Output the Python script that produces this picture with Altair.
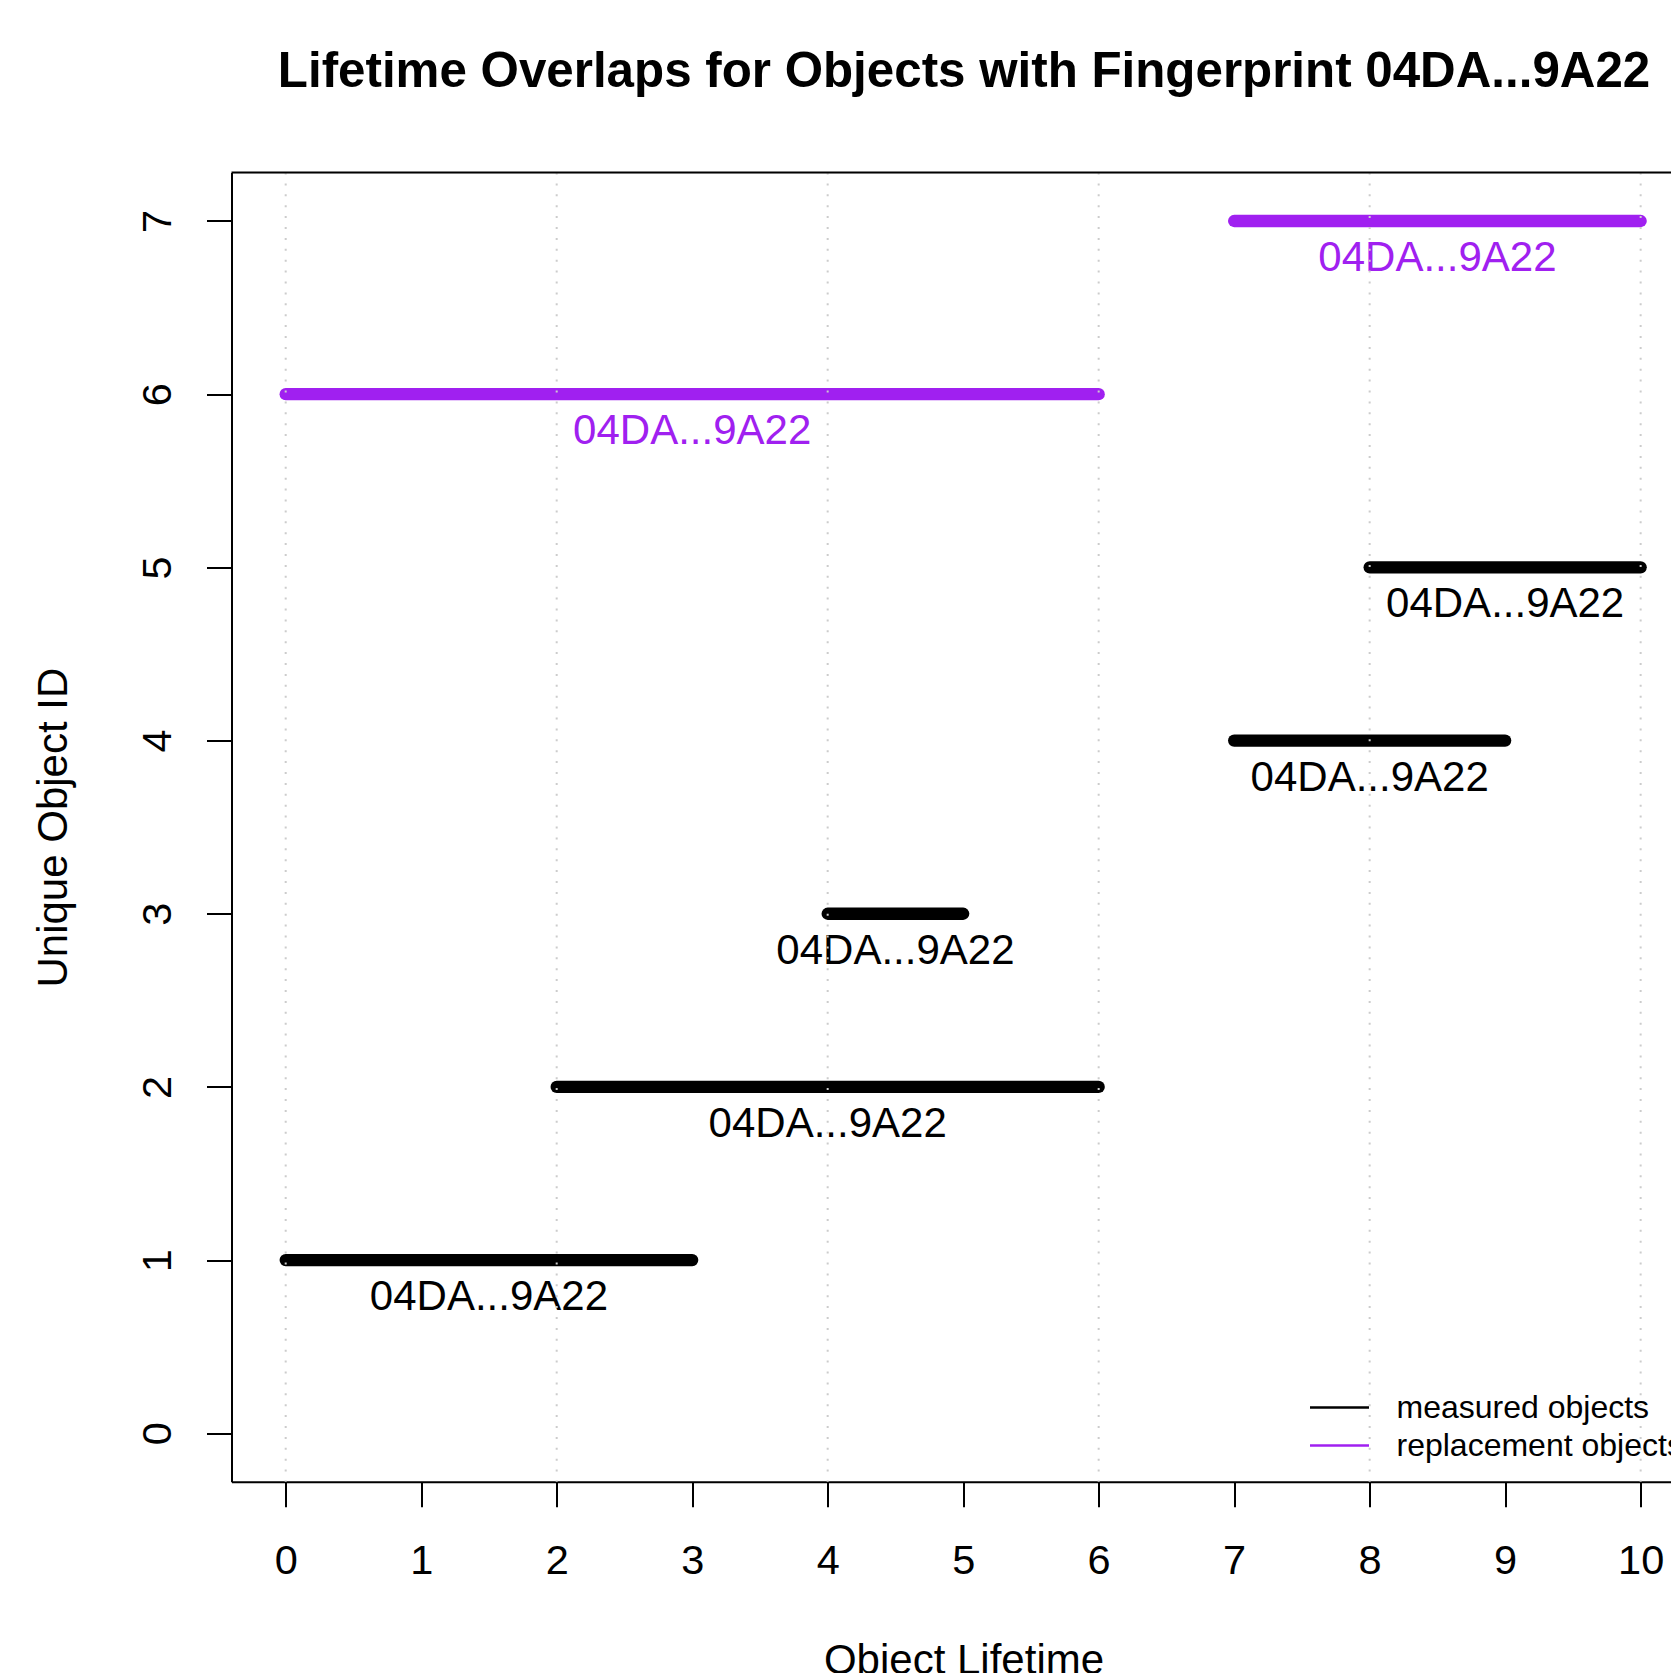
import altair as alt
import pandas as pd

# ---- data ----
object_ids = [1, 2, 3, 4, 5, 6, 7]
lifetime_start = [0, 2, 4, 7, 8, 0, 7]
lifetime_end = [3, 6, 5, 9, 10, 6, 10]
object_kind = ["measured objects"] * 5 + ["replacement objects"] * 2
fingerprint_labels = ["04DA...9A22"] * 7
x_ticks = list(range(0, 11))
y_ticks = list(range(0, 8))
grid_x = [0, 2, 4, 6, 8, 10]
series_names = ["measured objects", "replacement objects"]
series_colors = ["black", "#A020F0"]

X_DOMAIN = [-0.4, 10.224]
Y_DOMAIN = [-0.28, 7.28]

FONT = "Liberation Sans"
W, H = 1439.5, 1309.3

df = pd.DataFrame({
    "id": object_ids,
    "start": lifetime_start,
    "end": lifetime_end,
    "kind": object_kind,
    "label": fingerprint_labels,
})
grid_df = pd.DataFrame({"gx": grid_x})
frame_df = pd.DataFrame({"fx": [X_DOMAIN[0]], "fx2": [X_DOMAIN[1]], "fy": [Y_DOMAIN[1]]})

xscale = alt.Scale(domain=X_DOMAIN, nice=False, zero=False)
yscale = alt.Scale(domain=Y_DOMAIN, nice=False, zero=False)

xaxis = alt.Axis(
    values=x_ticks, format="d", title="Object Lifetime", grid=False,
    tickSize=25, tickWidth=2, tickColor="black",
    domainColor="black", domainWidth=2,
    labelFont=FONT, labelFontSize=41.5, labelColor="black",
    labelBaseline="alphabetic", labelPadding=66.5,
    labelFlush=False, labelOverlap=False,
    titleFont=FONT, titleFontSize=42, titleFontWeight="normal", titleColor="black",
    titleX=732, titleY=192, titleBaseline="alphabetic", titleAlign="center",
)
yaxis = alt.Axis(
    values=y_ticks, format="d", title="Unique Object ID", grid=False,
    tickSize=25, tickWidth=2, tickColor="black",
    domainColor="black", domainWidth=2,
    labelFont=FONT, labelFontSize=41.5, labelColor="black",
    labelAngle=270, labelAlign="center", labelBaseline="alphabetic", labelPadding=36.5,
    labelFlush=False, labelOverlap=False,
    titleFont=FONT, titleFontSize=42, titleFontWeight="normal", titleColor="black",
    titleAngle=270, titleX=-164.8, titleY=654.65, titleBaseline="alphabetic", titleAlign="center",
)

segments = alt.Chart(df).mark_rule(strokeWidth=12.3, strokeCap="round").encode(
    x=alt.X("start:Q", scale=xscale, axis=xaxis),
    x2="end:Q",
    y=alt.Y("id:Q", scale=yscale, axis=yaxis),
    color=alt.Color(
        "kind:N",
        scale=alt.Scale(domain=series_names, range=series_colors),
        legend=alt.Legend(
            title=None, orient="none", legendX=1092, legendY=1219,
            symbolType="M-2,0H2", symbolSize=870, symbolStrokeWidth=2.5,
            labelFont=FONT, labelFontSize=32, labelColor="black",
            labelOffset=41, rowPadding=6, padding=0, labelLimit=1000,
        ),
    ),
)

labels = alt.Chart(df).transform_calculate(
    mid="(datum.start + datum.end) / 2"
).mark_text(
    font=FONT, fontSize=42, baseline="alphabetic", align="center", dy=50
).encode(
    x="mid:Q",
    y="id:Q",
    text="label:N",
    color=alt.condition("datum.kind == 'replacement objects'",
                        alt.value("#A020F0"), alt.value("black")),
)

grid = alt.Chart(grid_df).mark_rule(
    color="#CCCCCC", strokeWidth=2, strokeDash=[2, 8.9]
).encode(x="gx:Q")

frame_top = alt.Chart(frame_df).mark_rule(color="black", strokeWidth=2).encode(
    x="fx:Q", x2="fx2:Q", y="fy:Q"
)

chart = alt.layer(segments, labels, grid, frame_top).properties(
    width=W,
    height=H,
    title=alt.Title(
        "Lifetime Overlaps for Objects with Fingerprint 04DA...9A22",
        font=FONT, fontSize=49.3, fontWeight="bold", color="black",
        anchor="middle", frame="group", baseline="alphabetic", offset=35, dx=12.8,
    ),
    autosize=alt.AutoSizeParams(type="none"),
    padding={"left": 223.5, "top": 164.5, "right": 0, "bottom": 191.2},
).configure_view(stroke=None).configure(background="white")

chart.save("out.html", embed_options={"renderer": "svg", "actions": False})
